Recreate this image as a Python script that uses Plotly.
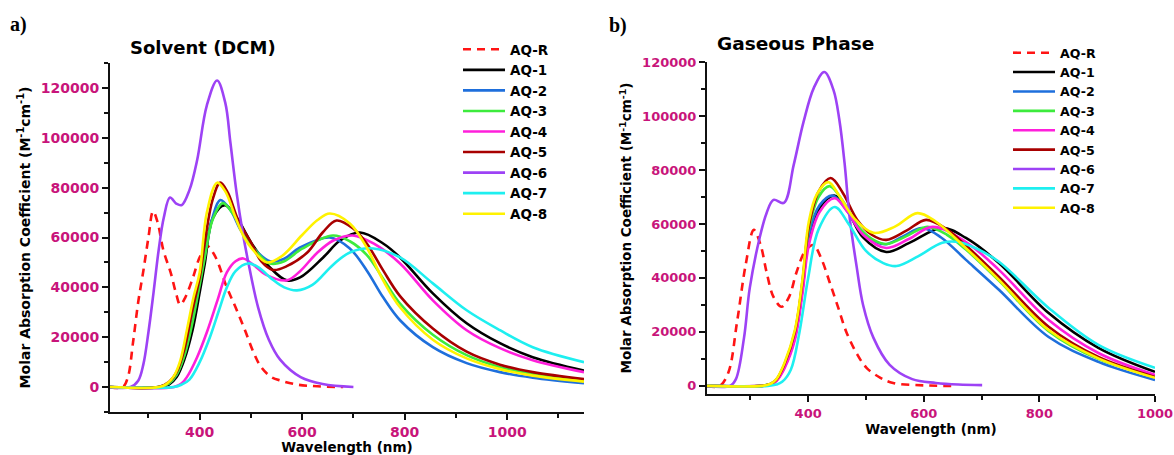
import plotly.graph_objects as go

# ---------------- Solvent (DCM) spectra: wavelength (nm) / molar absorption ----------------
dcm_R_wl = [225, 250, 260, 270, 280, 290, 300, 309, 318, 329, 344, 354, 362, 372, 387, 400, 415, 430, 453, 470, 488, 505, 520, 540, 560, 590, 630, 680]
dcm_R = [0, 0, 4000, 18000, 34000, 46500, 60000, 70500, 66000, 55000, 45500, 37500, 33000, 36000, 44000, 52000, 56500, 52500, 40000, 32000, 23000, 14000, 8000, 4000, 2500, 1000, 300, 0]

dcm_1_wl = [225, 320, 340, 355, 370, 386, 400, 410, 426, 449, 472, 504, 537, 570, 596, 641, 674, 713, 758, 791, 855, 921, 986, 1050, 1150]
dcm_1 = [0, 0, 1000, 4000, 11000, 22800, 38000, 49600, 68000, 73000, 68000, 56800, 48000, 42800, 44000, 52000, 58800, 62000, 57600, 52000, 37600, 25600, 17600, 12000, 6600]

dcm_2_wl = [225, 320, 340, 355, 370, 385, 400, 410, 425, 440, 460, 480, 504, 537, 565, 596, 654, 693, 726, 758, 791, 855, 921, 986, 1050, 1150]
dcm_2 = [0, 0, 1500, 5000, 13000, 26000, 42000, 53000, 68000, 75000, 71000, 63000, 56000, 50500, 51500, 56000, 60000, 55600, 46800, 36000, 26800, 16000, 9600, 6000, 3800, 1500]

dcm_3_wl = [225, 320, 340, 355, 370, 385, 400, 410, 425, 445, 465, 485, 504, 537, 565, 600, 660, 693, 726, 758, 791, 855, 921, 986, 1050, 1150]
dcm_3 = [0, 0, 1500, 5000, 12500, 25000, 41000, 52000, 67000, 73800, 69500, 62000, 56000, 49600, 50500, 55500, 60800, 58500, 53000, 43500, 33500, 21000, 12800, 8000, 5200, 2600]

dcm_4_wl = [225, 350, 365, 375, 395, 414, 435, 453, 470, 485, 505, 530, 570, 596, 628, 661, 699, 740, 791, 855, 921, 986, 1050, 1150]
dcm_4 = [0, 0, 1500, 4000, 12000, 22000, 35000, 46000, 50500, 51600, 49000, 45000, 42800, 46500, 53600, 58800, 60800, 57500, 49600, 34800, 22800, 15600, 10800, 6000]

dcm_5_wl = [225, 320, 340, 355, 370, 385, 400, 410, 425, 440, 455, 475, 500, 520, 543, 570, 610, 640, 667, 700, 726, 758, 791, 855, 921, 986, 1050, 1150]
dcm_5 = [0, 0, 2000, 6000, 15000, 30000, 44000, 58000, 75000, 82000, 78000, 67000, 58000, 50500, 47000, 48500, 54000, 62000, 66800, 63500, 57600, 46800, 36500, 23500, 14200, 9000, 6000, 3200]

dcm_6_wl = [225, 265, 280, 290, 300, 310, 320, 330, 342, 355, 365, 380, 395, 414, 434, 450, 460, 472, 484, 494, 514, 535, 557, 597, 640, 700]
dcm_6 = [0, 0, 2500, 9000, 22000, 38000, 55000, 68000, 76000, 73500, 73000, 79000, 91000, 113000, 123000, 114000, 98000, 78000, 62000, 51000, 32000, 19000, 11000, 4000, 1200, 0]

dcm_7_wl = [225, 350, 365, 380, 400, 420, 438, 453, 470, 494, 515, 540, 565, 590, 620, 660, 693, 739, 791, 855, 921, 986, 1050, 1150]
dcm_7 = [0, 0, 1000, 3000, 10000, 20000, 31000, 40000, 46500, 49600, 48000, 43500, 40000, 38800, 41000, 49000, 54000, 55600, 52000, 41600, 30800, 22800, 16000, 10000]

dcm_8_wl = [225, 320, 335, 350, 362, 375, 388, 400, 414, 434, 450, 470, 487, 504, 531, 560, 600, 630, 654, 693, 726, 758, 791, 855, 921, 986, 1050, 1150]
dcm_8 = [0, 0, 1200, 4500, 10500, 22800, 36000, 46000, 70000, 82000, 78500, 68000, 60000, 55000, 50000, 52500, 61000, 67000, 69600, 65600, 56000, 42800, 32000, 19000, 11500, 7200, 4600, 2200]

# ---------------- Gaseous phase spectra ----------------
gas_R_wl = [225, 247, 262, 277, 292, 306, 318, 328, 340, 354, 367, 380, 395, 409, 423, 437, 452, 466, 484, 501, 525, 547, 600, 649]
gas_R = [0, 0, 5000, 23700, 45000, 57800, 52000, 42200, 33000, 29300, 33000, 42200, 50000, 52200, 47000, 38500, 29000, 20000, 12000, 6700, 3000, 1100, 200, 0]

gas_1_wl = [225, 320, 335, 345, 359, 377, 390, 401, 420, 445, 468, 495, 535, 575, 632, 673, 730, 816, 902, 1000]
gas_1 = [0, 0, 600, 2000, 7000, 18000, 35500, 54000, 66000, 70500, 65000, 55000, 49600, 53000, 58500, 54800, 45500, 27000, 14100, 5200]

gas_2_wl = [225, 320, 335, 345, 359, 377, 390, 401, 420, 442, 465, 490, 515, 535, 565, 597, 630, 673, 730, 816, 902, 1000]
gas_2 = [0, 0, 700, 2200, 7500, 19000, 37000, 56000, 67000, 70500, 65500, 57500, 53500, 52500, 55500, 58500, 55000, 46700, 35600, 18100, 8900, 2200]

gas_3_wl = [225, 320, 335, 345, 359, 377, 390, 401, 418, 437, 460, 485, 510, 535, 570, 606, 640, 673, 730, 816, 902, 1000]
gas_3 = [0, 0, 700, 2200, 7800, 19500, 37500, 58000, 70000, 74000, 68500, 59500, 54500, 52600, 55500, 58900, 56000, 50500, 39000, 20300, 10000, 3700]

gas_4_wl = [225, 320, 335, 345, 359, 377, 390, 401, 420, 446, 468, 495, 535, 575, 615, 673, 730, 816, 902, 1000]
gas_4 = [0, 0, 500, 1800, 6500, 17000, 34000, 52000, 64500, 69500, 64500, 56000, 51100, 54500, 58900, 53300, 43000, 24400, 12200, 4100]

gas_5_wl = [225, 320, 335, 345, 359, 377, 390, 401, 418, 439, 460, 485, 510, 535, 570, 604, 640, 673, 730, 816, 902, 1000]
gas_5 = [0, 0, 700, 2300, 8000, 20000, 38500, 59000, 72000, 77000, 71500, 61500, 56000, 54100, 57500, 61500, 58000, 52000, 40400, 21900, 10700, 3300]

gas_6_wl = [225, 265, 275, 289, 299, 316, 328, 340, 358, 375, 392, 410, 428, 444, 454, 463, 472, 484, 495, 513, 541, 580, 621, 660, 701]
gas_6 = [0, 0, 2500, 17800, 36300, 54800, 64000, 68900, 67800, 81900, 97800, 110500, 116300, 109500, 98500, 82500, 62000, 44000, 30000, 17800, 7800, 2500, 1100, 500, 300]

gas_7_wl = [225, 330, 345, 355, 370, 385, 400, 418, 446, 470, 500, 530, 553, 590, 632, 660, 690, 730, 816, 902, 1000]
gas_7 = [0, 0, 500, 1500, 6000, 20000, 40000, 58000, 66300, 60000, 50000, 45500, 44400, 48000, 53000, 53300, 51000, 46000, 28900, 15200, 6700]

gas_8_wl = [225, 320, 335, 345, 359, 377, 390, 401, 415, 435, 455, 480, 513, 550, 589, 620, 673, 730, 816, 902, 1000]
gas_8 = [0, 0, 800, 2500, 8500, 20700, 39300, 60700, 71000, 75500, 70000, 62000, 56700, 59000, 64000, 61000, 51000, 39300, 20700, 10200, 3000]

# ---------------- series names & styles ----------------
names = ["AQ-R", "AQ-1", "AQ-2", "AQ-3", "AQ-4", "AQ-5", "AQ-6", "AQ-7", "AQ-8"]
colors = ["#FF1414", "#000000", "#1E6FDC", "#3DEB3D", "#FF1FDB", "#A80000", "#9D42F5", "#1EEFF0", "#FFF200"]

dcm_series = [(dcm_R_wl, dcm_R), (dcm_1_wl, dcm_1), (dcm_2_wl, dcm_2), (dcm_3_wl, dcm_3),
              (dcm_4_wl, dcm_4), (dcm_5_wl, dcm_5), (dcm_6_wl, dcm_6), (dcm_7_wl, dcm_7),
              (dcm_8_wl, dcm_8)]
gas_series = [(gas_R_wl, gas_R), (gas_1_wl, gas_1), (gas_2_wl, gas_2), (gas_3_wl, gas_3),
              (gas_4_wl, gas_4), (gas_5_wl, gas_5), (gas_6_wl, gas_6), (gas_7_wl, gas_7),
              (gas_8_wl, gas_8)]

W, H = 1174, 455
FONT = "DejaVu Sans, Verdana, Arial, sans-serif"
TICK_COLOR = "#C8147A"

fig = go.Figure()


def add_panel(series, xa, ya, legend_id):
    for name, color, (wl, val) in zip(names, colors, series):
        fig.add_trace(go.Scatter(
            x=wl, y=val, name=name, mode="lines",
            xaxis=xa, yaxis=ya, legend=legend_id,
            line=dict(color=color, width=2.6, shape="spline", smoothing=1.0,
                      dash="8px,6px" if name == "AQ-R" else "solid"),
            hoverinfo="skip",
        ))


add_panel(dcm_series, "x", "y", "legend")
add_panel(gas_series, "x2", "y2", "legend2")


def px_x(p):
    return p / W


def px_y(p):
    return (H - p) / H


def axis_common(size):
    return dict(
        showline=True, linecolor="#111111", linewidth=2, mirror=False,
        ticks="outside", ticklen=6, tickwidth=2, tickcolor="#111111",
        showgrid=False, zeroline=False, automargin=False,
        tickfont=dict(family=FONT, size=size, color=TICK_COLOR, weight=700),
    )


minor_ticks = dict(ticks="outside", ticklen=4, tickwidth=2, tickcolor="#111111", tick0=0)

xa1 = axis_common(14)
xa1.update(domain=[px_x(110), px_x(584)], anchor="y", range=[225, 1150],
           tick0=0, dtick=200, minor=dict(dtick=100, **minor_ticks),
           title=dict(text="Wavelength (nm)", standoff=4,
                      font=dict(family=FONT, size=13.5, color="#000000", weight=700)))
ya1 = axis_common(14)
ya1.update(domain=[px_y(412), px_y(63)], anchor="x", range=[-10000, 130000],
           tick0=0, dtick=20000, tickformat="d", minor=dict(dtick=10000, **minor_ticks),
           title=dict(text="Molar Absorption Coefficient (M<sup>-1</sup>cm<sup>-1</sup>)", standoff=7,
                      font=dict(family=FONT, size=14, color="#000000", weight=700)))

xa2 = axis_common(13)
xa2.update(domain=[px_x(707), px_x(1155)], anchor="y2", range=[225, 1000],
           tick0=0, dtick=200, minor=dict(dtick=100, **minor_ticks),
           title=dict(text="Wavelength (nm)", standoff=3,
                      font=dict(family=FONT, size=13.5, color="#000000", weight=700)))
ya2 = axis_common(13)
ya2.update(domain=[px_y(394), px_y(62)], anchor="x2", range=[-3000, 120000],
           tick0=0, dtick=20000, tickformat="d", minor=dict(dtick=10000, **minor_ticks),
           title=dict(text="Molar Absorption Coefficient (M<sup>-1</sup>cm<sup>-1</sup>)", standoff=7,
                      font=dict(family=FONT, size=13.5, color="#000000", weight=700)))

legend_base = dict(xanchor="left", yanchor="top", bgcolor="rgba(0,0,0,0)",
                   borderwidth=0, tracegroupgap=0, itemwidth=42, itemclick=False)

fig.update_layout(
    width=W, height=H, autosize=False,
    margin=dict(l=0, r=0, t=0, b=0),
    paper_bgcolor="white", plot_bgcolor="white",
    xaxis=xa1, yaxis=ya1, xaxis2=xa2, yaxis2=ya2,
    showlegend=True,
    legend=dict(x=px_x(458), y=px_y(34),
                font=dict(family=FONT, size=13.5, color="#000000", weight=700), **legend_base),
    legend2=dict(x=px_x(1008), y=px_y(38),
                 font=dict(family=FONT, size=12.6, color="#000000", weight=700), **legend_base),
    annotations=[
        dict(text="Solvent (DCM)", x=px_x(203), y=px_y(48), xref="paper", yref="paper",
             showarrow=False, xanchor="center", yanchor="middle",
             font=dict(family=FONT, size=18, color="#000000", weight=700)),
        dict(text="Gaseous Phase", x=px_x(795), y=px_y(43), xref="paper", yref="paper",
             showarrow=False, xanchor="center", yanchor="middle",
             font=dict(family=FONT, size=18.5, color="#000000", weight=700)),
        dict(text="a)", x=px_x(8), y=px_y(24), xref="paper", yref="paper",
             showarrow=False, xanchor="left", yanchor="middle",
             font=dict(family="Liberation Serif, Times New Roman, serif", size=20, color="#000000", weight=700)),
        dict(text="b)", x=px_x(607), y=px_y(25), xref="paper", yref="paper",
             showarrow=False, xanchor="left", yanchor="middle",
             font=dict(family="Liberation Serif, Times New Roman, serif", size=20, color="#000000", weight=700)),
    ],
)

fig.write_html("out.html")
